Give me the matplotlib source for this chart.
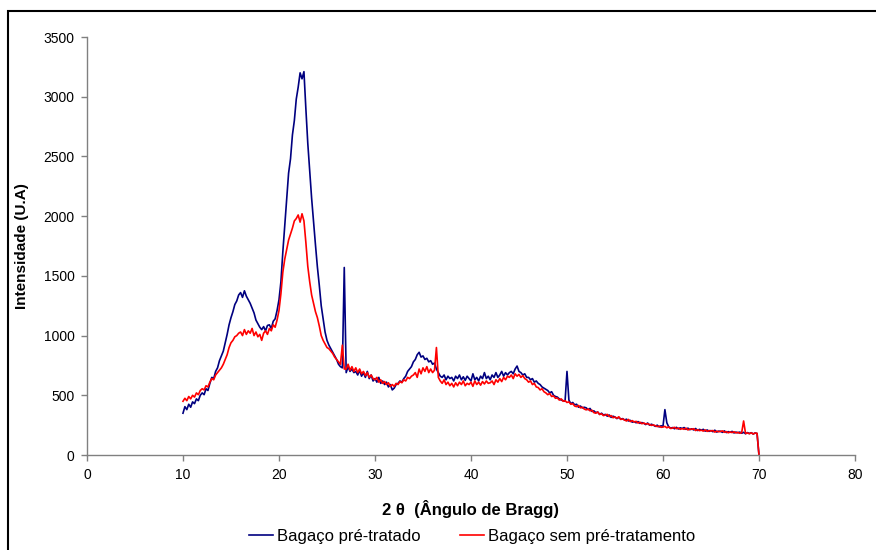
import numpy as np
import matplotlib
matplotlib.use('Agg')
import matplotlib.pyplot as plt
from matplotlib.patches import Rectangle

plt.rcParams['font.family'] = ['Liberation Sans', 'DejaVu Sans']

# difratograma, passo de 0.2 graus (10 a 70)
theta = np.round(np.arange(10.0, 70.0001, 0.2), 1)

pre_tratado = [
    350, 405, 380, 425, 400, 445, 430, 470, 455, 500,
    520, 505, 555, 540, 600, 650, 640, 700, 730, 790,
    830, 870, 940, 1010, 1090, 1150, 1200, 1260, 1290, 1340,
    1360, 1320, 1375, 1330, 1300, 1270, 1230, 1190, 1130, 1100,
    1070, 1050, 1075, 1040, 1085, 1090, 1060, 1120, 1140, 1210,
    1300, 1450, 1700, 1920, 2150, 2360, 2480, 2680, 2800, 2980,
    3080, 3200, 3150, 3210, 2900, 2610, 2380, 2150, 1950, 1760,
    1575, 1420, 1250, 1140, 1030, 960, 920, 890, 860, 830,
    800, 760, 740, 730, 1570, 690, 740, 700, 720, 690,
    700, 670, 710, 660, 690, 650, 700, 640, 670, 620,
    640, 610, 650, 600, 620, 590, 610, 570, 590, 545,
    560, 590, 600, 620, 610, 640, 660, 700, 720, 740,
    780, 800, 840, 860, 820, 830, 800, 810, 780, 790,
    760, 770, 720, 690, 660, 650, 670, 630, 660, 640,
    650, 620, 660, 640, 670, 630, 655, 625, 660, 640,
    620, 680, 630, 650, 620, 660, 640, 690, 640, 660,
    630, 670, 650, 690, 650, 670, 700, 660, 690, 670,
    690, 700, 680, 720, 745, 700, 690, 670, 680, 650,
    650, 630, 640, 610, 620, 600, 590, 570, 560, 550,
    540, 520, 530, 500, 490, 485, 470, 460, 455, 450,
    700, 460, 430, 440, 420, 425, 400, 410, 395, 400,
    395, 380, 390, 365, 370, 355, 360, 340, 350, 335,
    340, 325, 335, 315, 325, 318, 305, 315, 300, 305,
    293, 300, 285, 290, 275, 280, 270, 280, 265, 272,
    265, 255, 268, 250, 258, 250, 240, 250, 235, 245,
    240, 380, 270, 235, 225, 230, 220, 232, 218, 228,
    222, 230, 215, 225, 212, 220, 210, 222, 205, 215,
    208, 215, 200, 210, 198, 205, 195, 208, 192, 200,
    198, 190, 202, 188, 196, 190, 198, 185, 192, 186,
    192, 182, 190, 178, 188, 180, 187, 176, 185, 180,
    0,
]

sem_pre_tratamento = [
    450, 475, 455, 490, 470, 500, 485, 520, 505, 540,
    555, 545, 580, 570, 610, 640, 630, 670, 690, 710,
    730, 760, 800, 840, 900, 940, 960, 990, 1000, 1020,
    1030, 1000, 1050, 1010, 1040, 1020, 1060, 1000, 1030, 990,
    1010, 960, 1020, 1040, 1010, 1060, 1040, 1090, 1070, 1130,
    1210, 1350, 1530, 1640, 1720, 1800, 1850, 1900, 1960, 1980,
    2010, 1950, 2020, 1960, 1780, 1580, 1450, 1340, 1270, 1200,
    1150, 1080, 1000, 960, 930, 900, 890, 870, 850, 820,
    800, 780, 760, 920, 720, 720, 760, 710, 740, 700,
    730, 690, 720, 680, 700, 665, 690, 650, 670, 640,
    630, 650, 610, 630, 600, 615, 590, 605, 575, 590,
    575, 600, 590, 615, 605, 630, 620, 650, 640, 660,
    670, 690, 650, 720, 680, 730, 700, 740, 690, 720,
    690, 710, 900, 650, 620, 600, 630, 590, 610, 580,
    600, 570, 605, 580, 610, 590, 620, 580, 600, 590,
    610, 575, 620, 590, 610, 585, 615, 595, 620, 600,
    605, 620, 590, 630, 610, 640, 615, 650, 630, 660,
    650, 670, 640, 680, 660, 675, 650, 665, 640, 630,
    610, 620, 590, 600, 570, 565, 545, 555, 530, 520,
    505, 515, 490, 495, 475, 478, 460, 470, 450, 455,
    440, 445, 425, 430, 410, 405, 415, 395, 400, 385,
    378, 385, 370, 375, 355, 350, 360, 340, 345, 330,
    335, 340, 322, 330, 312, 318, 308, 320, 298, 302,
    293, 285, 298, 280, 288, 276, 282, 268, 275, 262,
    268, 260, 262, 255, 248, 252, 245, 238, 242, 232,
    234, 240, 228, 235, 222, 226, 232, 220, 226, 215,
    222, 215, 225, 210, 218, 215, 220, 205, 212, 204,
    208, 200, 210, 198, 205, 201, 205, 192, 200, 195,
    198, 202, 190, 196, 186, 193, 188, 195, 185, 190,
    182, 188, 285, 180, 185, 178, 186, 176, 184, 182,
    0,
]

fig = plt.figure(figsize=(8.76, 5.5), dpi=100)
ax = fig.add_axes([0.0993, 0.1727, 0.8767, 0.76])

ax.plot(theta, pre_tratado, color='#000080', lw=1.2, label='Bagaço pré-tratado')
ax.plot(theta, sem_pre_tratamento, color='#FF0000', lw=1.2, label='Bagaço sem pré-tratamento')

ax.set_xlim(0, 80)
ax.set_ylim(0, 3500)
ax.set_xticks(range(0, 81, 10))
ax.set_yticks(range(0, 3501, 500))

for s in ['top', 'right']:
    ax.spines[s].set_visible(False)
for s in ['left', 'bottom']:
    ax.spines[s].set_color('#808080')
    ax.spines[s].set_linewidth(1.0)
ax.tick_params(axis='both', direction='out', length=4, width=1.0,
               color='#808080', labelsize=10, labelcolor='black', pad=5)

ax.set_xlabel('2 θ  (Ângulo de Bragg)', fontsize=12, fontweight='bold', labelpad=13)
ax.set_ylabel('Intensidade (U.A)', fontsize=11, fontweight='bold', labelpad=10)

fig.legend(loc='center', bbox_to_anchor=(0.539, 0.024), ncol=2, frameon=False,
           fontsize=12, handlelength=1.4, handletextpad=0.25, columnspacing=2.4)

# moldura da área do gráfico
fig.patches.append(Rectangle((8 / 876, -0.5), 2.0, 1.5 - 11 / 550,
                             transform=fig.transFigure, fill=False,
                             edgecolor='black', linewidth=1.5))

plt.savefig('out.png', dpi=100)
